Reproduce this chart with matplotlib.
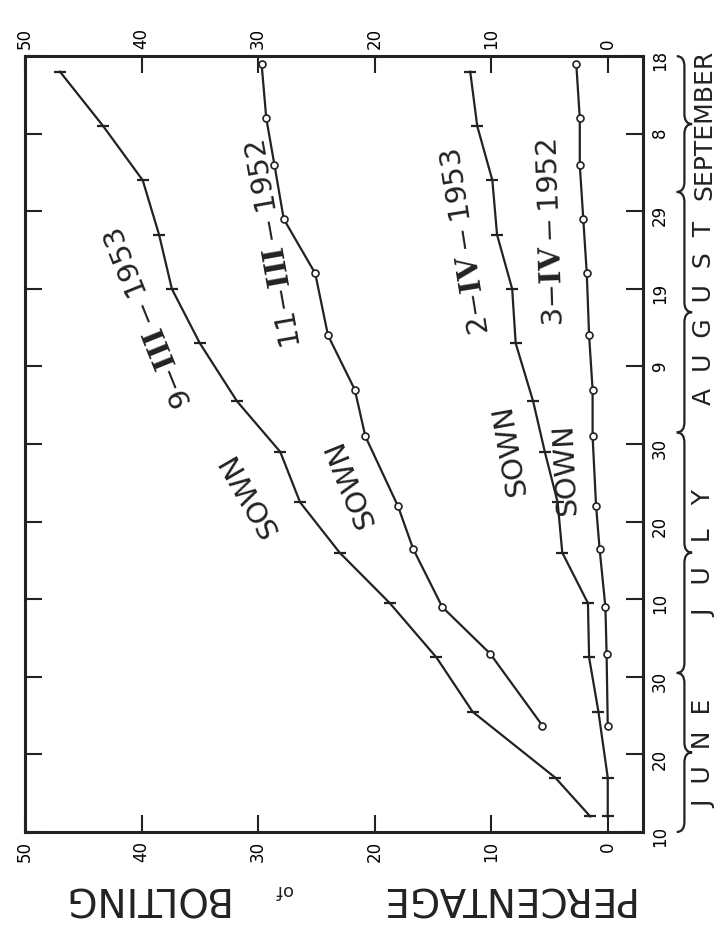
import matplotlib.pyplot as plt
import matplotlib.transforms as mtransforms
from matplotlib.path import Path
from matplotlib.patches import PathPatch

plt.rcParams['font.family'] = ['DejaVu Sans']
plt.rcParams['mathtext.fontset'] = 'dejavuserif'

# days counted from 10 June
days_1953 = [2, 7, 15.5, 22.5, 29.5, 36, 42.5, 49, 55.5, 63, 70, 77, 84, 91, 98]
sown_9_III_1953 = [1.5, 4.5, 11.6, 14.7, 18.7, 23.0, 26.4, 28.1, 31.8, 35.0, 37.4, 38.5, 39.9, 43.3, 47.0]
sown_2_IV_1953 = [0, 0, 0.8, 1.6, 1.7, 3.9, 4.3, 5.4, 6.4, 7.9, 8.2, 9.5, 9.9, 11.2, 11.8]

days_1952 = [13.7, 23, 29, 36.5, 42, 51, 57, 64, 72, 79, 86, 92, 99]
sown_11_III_1952 = [5.6, 10.1, 14.2, 16.7, 18.0, 20.8, 21.7, 24.0, 25.1, 27.8, 28.6, 29.3, 29.7]
sown_3_IV_1952 = [0, 0.1, 0.2, 0.7, 1.0, 1.3, 1.3, 1.6, 1.8, 2.1, 2.4, 2.4, 2.7]

date_ticks = [0, 10, 20, 30, 40, 50, 60, 70, 80, 90, 100]
date_labels = ['10', '20', '30', '10', '20', '30', '9', '19', '29', '8', '18']
pct_ticks = [0, 10, 20, 30, 40, 50]

months = ['J  U  N  E', 'J   U   L   Y', 'A  U  G  U  S  T', 'SEPTEMBER']
month_edges = [0, 20.5, 51.5, 82.5, 100]

# curve labels: text, percent, day, rotation
curve_labels = [
    (r'9$-\mathbf{III}-$1953', 39.3, 66.5, 112),
    ('SOWN', 30.8, 43.7, 120),
    (r'11$-\mathbf{III}-$1952', 28.6, 76.0, 100),
    ('SOWN', 22.1, 45.1, 112),
    (r'2$-\mathbf{IV}-$1953', 12.1, 76.2, 99),
    ('SOWN', 8.4, 49.4, 100),
    (r'3$-\mathbf{IV}-$1952', 4.8, 77.4, 92),
    ('SOWN', 3.6, 46.8, 93),
]

fig = plt.figure(figsize=(7.25, 9.28), dpi=100)
ax = fig.add_axes([0.0345, 0.1024, 0.852, 0.836])

ax.plot(sown_9_III_1953, days_1953, color='#222222', lw=1.6, marker='_', ms=9, mew=1.6)
ax.plot(sown_2_IV_1953, days_1953, color='#222222', lw=1.6, marker='_', ms=9, mew=1.6)
ax.plot(sown_11_III_1952, days_1952, color='#222222', lw=1.6, marker='o', ms=5,
        mfc='white', mec='#222222', mew=1.2)
ax.plot(sown_3_IV_1952, days_1952, color='#222222', lw=1.6, marker='o', ms=5,
        mfc='white', mec='#222222', mew=1.2)

for txt, p, d, rot in curve_labels:
    ax.text(p, d, txt, rotation=rot, ha='center', va='center', fontsize=21,
            color='#222222', rotation_mode='anchor')

ax.set_xlim(50, -3)
ax.set_ylim(0, 100)
ax.set_xticks(pct_ticks)
ax.set_xticklabels([str(t) for t in pct_ticks])
ax.set_yticks(date_ticks)
ax.set_yticklabels(date_labels)
ax.tick_params(direction='in', length=12, width=1.5, color='#222222',
               top=True, bottom=True, left=True, right=True)
ax.tick_params(axis='x', labeltop=True, labelbottom=True, labelrotation=90,
               labelsize=12, pad=6)
ax.tick_params(axis='y', labelleft=False, labelright=True, labelrotation=90,
               labelsize=12, pad=6)
for s in ax.spines.values():
    s.set_linewidth(2.2)
    s.set_color('#222222')

# month braces on the right
trans = mtransforms.blended_transform_factory(ax.transAxes, ax.transData)
x0, x1 = 1.055, 1.08
xm = (x0 + x1) / 2
r = 1.3
for name, lo, hi in zip(months, month_edges[:-1], month_edges[1:]):
    mid = (lo + hi) / 2
    verts = [(x0, lo), (xm, lo), (xm, lo + r),
             (xm, mid - r), (xm, mid), (x1, mid),
             (xm, mid), (xm, mid + r),
             (xm, hi - r), (xm, hi), (x0, hi)]
    codes = [Path.MOVETO, Path.CURVE3, Path.CURVE3,
             Path.LINETO, Path.CURVE3, Path.CURVE3,
             Path.CURVE3, Path.CURVE3,
             Path.LINETO, Path.CURVE3, Path.CURVE3]
    ax.add_patch(PathPatch(Path(verts, codes), transform=trans, fill=False,
                           lw=1.6, ec='#222222', clip_on=False))
    ax.text(1.1, mid, name, transform=trans, rotation=90, ha='center', va='center',
            fontsize=18, color='#222222')

# axis title, upside down
fig.text(505 / 725, 1 - 898 / 928, 'PERCENTAGE', rotation=180, ha='center', va='center',
         fontsize=28, color='#222222')
fig.text(283 / 725, 1 - 890 / 928, 'of', rotation=180, ha='center', va='center',
         fontsize=13, color='#222222')
fig.text(143 / 725, 1 - 898 / 928, 'BOLTING', rotation=180, ha='center', va='center',
         fontsize=28, color='#222222')

fig.savefig('out.png', dpi=100, facecolor='white')
